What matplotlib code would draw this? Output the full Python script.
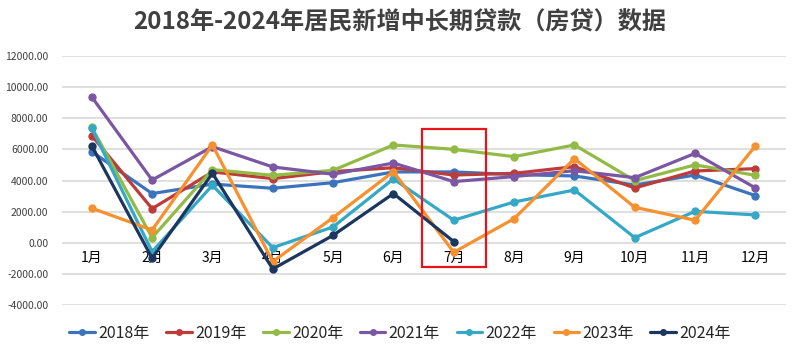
import matplotlib
matplotlib.use("Agg")
import matplotlib.pyplot as plt
from matplotlib.patches import Rectangle

plt.rcParams['font.family'] = ['Noto Sans CJK SC', 'DejaVu Sans']

months = ['1月', '2月', '3月', '4月', '5月', '6月', '7月', '8月', '9月', '10月', '11月', '12月']
y2018 = [5860, 3170, 3780, 3510, 3870, 4560, 4560, 4390, 4300, 3720, 4360, 3040]
y2019 = [6890, 2200, 4560, 4130, 4580, 4830, 4360, 4470, 4900, 3530, 4620, 4770]
y2020 = [7420, 340, 4710, 4340, 4660, 6290, 6010, 5540, 6290, 4000, 5010, 4340]
y2021 = [9370, 4040, 6180, 4880, 4410, 5130, 3940, 4260, 4640, 4190, 5750, 3530]
y2022 = [7360, -560, 3700, -300, 1030, 4110, 1460, 2630, 3400, 340, 2030, 1800]
y2023 = [2230, 830, 6290, -1200, 1630, 4580, -600, 1560, 5410, 2290, 1460, 6230]
y2024 = [6230, -980, 4470, -1670, 490, 3170, 90]

series = [('2018年', y2018, '#3C73BD'),
          ('2019年', y2019, '#BE3B3B'),
          ('2020年', y2020, '#92BB45'),
          ('2021年', y2021, '#7B57A3'),
          ('2022年', y2022, '#35A8C6'),
          ('2023年', y2023, '#F7902F'),
          ('2024年', y2024, '#1B365F')]

yticks = [-4000, -2000, 0, 2000, 4000, 6000, 8000, 10000, 12000]
title = '2018年-2024年居民新增中长期贷款（房贷）数据'

fig = plt.figure(figsize=(8, 3.51), dpi=100)
ax = fig.add_axes([0.077, 0.1302, 0.905, 0.7103])

x = list(range(len(months)))
for name, vals, col in series:
    ax.plot(x[:len(vals)], vals, color=col, lw=2.3, marker='o', ms=5,
            label=name, solid_capstyle='round', solid_joinstyle='round')

ax.set_xlim(-0.5, 11.5)
ax.set_ylim(-4000, 12000)
ax.set_yticks(yticks)
ax.set_yticklabels([f'{v:.2f}' for v in yticks], fontsize=7.5, color='#404040')
ax.set_xticks(x)
ax.set_xticklabels(months, fontsize=7.5, color='#404040')
ax.grid(axis='y', color='#D9D9D9', lw=1.2)
ax.set_axisbelow(True)
for s in ax.spines.values():
    s.set_visible(False)
ax.spines['bottom'].set_position(('data', 0))
ax.tick_params(axis='both', length=0)
ax.tick_params(axis='x', pad=6)
ax.tick_params(axis='y', pad=9.5)

rect = Rectangle((5.48, -1540), 1.05, 8860, fill=False, edgecolor='#E8141B',
                 lw=1.6, clip_on=False, zorder=5)
ax.add_patch(rect)

fig.text(0.5, 0.937, title, ha='center', va='center', fontsize=17.4,
         fontweight='bold', color='#404040')

leg = fig.legend(loc='center', bbox_to_anchor=(0.5, 0.051), ncol=7, frameon=False,
                 fontsize=11.5, handlelength=1.6, handletextpad=0.2,
                 columnspacing=1.05, markerscale=0.8)
for t in leg.get_texts():
    t.set_color('#262626')

fig.savefig('out.png', dpi=100)
